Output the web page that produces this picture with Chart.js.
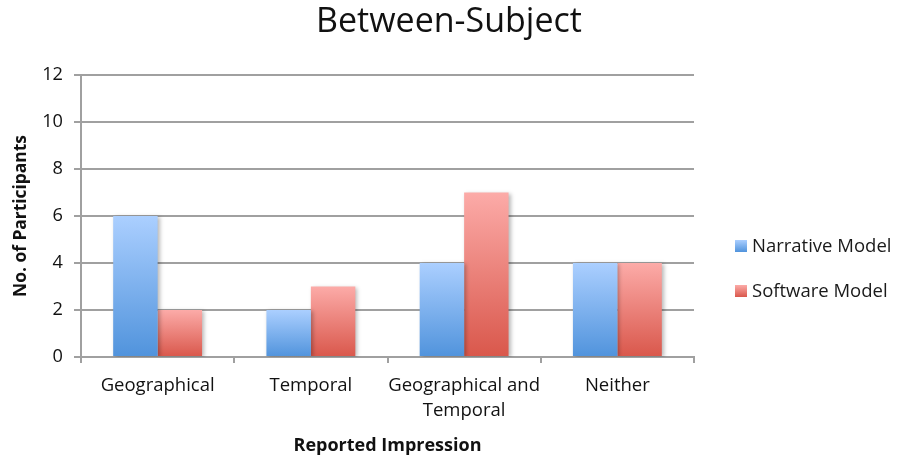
<!DOCTYPE html>
<html>
<head>
<meta charset="utf-8">
<script src="https://cdn.jsdelivr.net/npm/chart.js@4.4.1/dist/chart.umd.min.js"></script>
<style>
  html, body { margin: 0; padding: 0; background: #ffffff; }
  #wrap { width: 898px; height: 457px; }
</style>
</head>
<body>
<div id="wrap"><canvas id="chart" width="898" height="457"></canvas></div>
<script>
// Reported impression counts per model
const categories = ['Geographical', 'Temporal', ['Geographical and', 'Temporal'], 'Neither'];
const narrativeModel = [6, 2, 4, 4];
const softwareModel = [2, 3, 7, 4];
const seriesNames = ['Narrative Model', 'Software Model'];
const yTicks = [0, 2, 4, 6, 8, 10, 12];

const FONT = '"Open Sans", Lato, sans-serif';
const palettes = [
  { top: '#abcfff', bottom: '#5093dc' },
  { top: '#fcaba8', bottom: '#d9574b' }
];

function barGradient(ctx, pal, yTop, yBottom) {
  const g = ctx.createLinearGradient(0, yTop, 0, yBottom);
  g.addColorStop(0, pal.top);
  g.addColorStop(1, pal.bottom);
  return g;
}

function scriptedFill(pal) {
  return function (context) {
    const chart = context.chart;
    const y = chart.scales && chart.scales.y;
    if (!chart.chartArea || !y || context.raw === undefined) return pal.bottom;
    const top = y.getPixelForValue(context.raw);
    const base = y.getPixelForValue(0);
    if (!isFinite(top) || !isFinite(base) || top === base) return pal.bottom;
    return barGradient(chart.ctx, pal, top, base);
  };
}

// Soft drop shadow behind the bars
const barShadow = {
  id: 'barShadow',
  beforeDatasetsDraw(chart) {
    const ctx = chart.ctx;
    ctx.save();
    ctx.shadowColor = 'rgba(0,0,0,0.28)';
    ctx.shadowBlur = 4;
    ctx.shadowOffsetX = 2;
    ctx.shadowOffsetY = 1;
  },
  afterDatasetsDraw(chart) {
    chart.ctx.restore();
  }
};

// Legend on the right, drawn from the dataset labels
const sideLegend = {
  id: 'sideLegend',
  afterDraw(chart) {
    const ctx = chart.ctx;
    const x = 735, firstY = 246, step = 45, box = 12;
    ctx.save();
    ctx.font = '18.5px ' + FONT;
    ctx.textBaseline = 'middle';
    ctx.textAlign = 'left';
    chart.data.datasets.forEach((ds, i) => {
      const cy = firstY + i * step;
      ctx.fillStyle = barGradient(ctx, palettes[i], cy - box / 2, cy + box / 2);
      ctx.fillRect(x, cy - box / 2, box, box);
      ctx.fillStyle = '#1a1a1a';
      ctx.fillText(ds.label, x + 17, cy + 1);
    });
    ctx.restore();
  }
};

new Chart(document.getElementById('chart'), {
  type: 'bar',
  data: {
    labels: categories,
    datasets: [
      { label: seriesNames[0], data: narrativeModel, backgroundColor: scriptedFill(palettes[0]), borderWidth: 0 },
      { label: seriesNames[1], data: softwareModel, backgroundColor: scriptedFill(palettes[1]), borderWidth: 0 }
    ]
  },
  options: {
    responsive: false,
    animation: false,
    devicePixelRatio: 1,
    datasets: { bar: { categoryPercentage: 0.58, barPercentage: 1.0 } },
    plugins: {
      legend: { display: false },
      tooltip: { enabled: false },
      title: {
        display: true,
        text: 'Between-Subject',
        color: '#111111',
        font: { family: FONT, size: 34, weight: 'normal', lineHeight: 1.2 },
        padding: { top: 2, bottom: 32.2 }
      }
    },
    scales: {
      x: {
        grid: { display: true, drawOnChartArea: false, drawTicks: true, tickLength: 6, color: '#a0a0a0', lineWidth: 2, offset: true },
        border: { display: true, color: '#a0a0a0', width: 2 },
        ticks: { color: '#111111', font: { family: FONT, size: 18.5, lineHeight: 1.35 }, padding: 10, maxRotation: 0, autoSkip: false },
        title: {
          display: true,
          text: 'Reported Impression',
          color: '#111111',
          font: { family: FONT, size: 18, weight: 'bold', lineHeight: 1.2 },
          padding: { top: 4, bottom: 0 }
        },
        afterFit(scale) { scale.height = 100; }
      },
      y: {
        min: 0,
        max: 12,
        afterBuildTicks(scale) { scale.ticks = yTicks.map(v => ({ value: v })); },
        grid: { color: '#a0a0a0', lineWidth: 2, tickLength: 7 },
        border: { display: true, color: '#a0a0a0', width: 2 },
        ticks: { color: '#111111', font: { family: FONT, size: 18.2 }, padding: 11 },
        title: {
          display: true,
          text: 'No. of Participants',
          color: '#111111',
          font: { family: FONT, size: 17.4, weight: 'bold', lineHeight: 1.2 },
          padding: { top: 11, bottom: 4 }
        },
        afterFit(scale) { scale.width = 81; }
      },
      // empty right-hand axis that reserves room for the legend
      side: {
        type: 'linear',
        position: 'right',
        display: true,
        grid: { display: false, drawTicks: false },
        border: { display: false },
        ticks: { display: false },
        afterFit(scale) { scale.width = 204; }
      }
    }
  },
  plugins: [barShadow, sideLegend]
});
</script>
</body>
</html>
